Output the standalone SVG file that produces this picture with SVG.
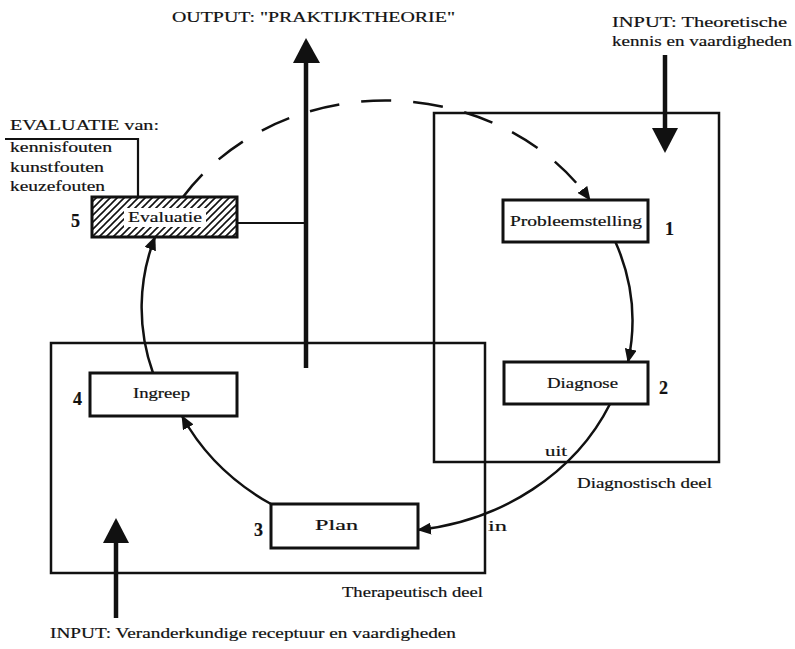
<svg xmlns="http://www.w3.org/2000/svg" width="795" height="649" viewBox="0 0 795 649">
<defs>
<style>
.t{font-family:"Liberation Serif","Times New Roman",serif;fill:#111;stroke:#111;stroke-width:0.2;}
.lbl{font-size:14px;}
.num{font-size:18px;font-weight:bold;stroke-width:0.2;}
.cap{font-size:15px;}
.region{fill:none;stroke:#111;stroke-width:2.5;}
.node{fill:#fff;stroke:#111;stroke-width:3;}
.arc{fill:none;stroke:#111;stroke-width:2.5;marker-end:url(#ah);}
.thin{fill:none;stroke:#111;stroke-width:2.2;}
.big{stroke:#111;stroke-width:4.5;fill:none;}
.head{fill:#111;}
</style>
<marker id="ah" viewBox="0 0 14 12" refX="13" refY="6" markerWidth="14" markerHeight="12" markerUnits="userSpaceOnUse" orient="auto">
<path d="M0,0 L14,6 L0,12 Z" fill="#111"/>
</marker>
<pattern id="hatch" patternUnits="userSpaceOnUse" width="7" height="7">
<path d="M-1,8 L8,-1 M-1,1 L1,-1 M6,8 L8,6" stroke="#111" stroke-width="1.6"/>
</pattern>
</defs>
<rect width="795" height="649" fill="#fff"/>

<g id="region-diagnostisch">
<rect class="region" x="434" y="113" width="285" height="349"/>
<text class="t cap" x="577" y="488" textLength="135" lengthAdjust="spacingAndGlyphs">Diagnostisch deel</text>
</g>
<g id="region-therapeutisch">
<rect class="region" x="51" y="343" width="434" height="230"/>
<text class="t cap" x="342" y="597" textLength="141" lengthAdjust="spacingAndGlyphs">Therapeutisch deel</text>
</g>

<g id="connectors">
<path class="arc" d="M183,197 A243,216 0 0 1 590,200" stroke-dasharray="30 22"/>
<path class="arc" d="M615,241 A243,216 0 0 1 628,362"/>
<path class="arc" d="M610,404 A243,216 0 0 1 418,530"/>
<path class="arc" d="M271,504 A243,216 0 0 1 182,416"/>
<path class="arc" d="M153,373 A243,216 0 0 1 155,237"/>
<path class="thin" d="M237,223 L306,223"/>
<path class="thin" d="M5,139 L138,139 L138,197"/>
<text class="t cap" x="545" y="456" textLength="22" lengthAdjust="spacingAndGlyphs">uit</text>
<text class="t cap" x="488" y="531" textLength="19" lengthAdjust="spacingAndGlyphs">in</text>
</g>

<g id="output-arrow">
<path class="big" d="M306,368 L306,60"/>
<path class="head" d="M293,63 L320,63 L306,38 Z"/>
<text class="t cap" x="172" y="22" textLength="283" lengthAdjust="spacingAndGlyphs">OUTPUT: "PRAKTIJKTHEORIE"</text>
</g>

<g id="input-theory">
<path class="big" d="M665,55 L665,130"/>
<path class="head" d="M652,128 L678,128 L665,153 Z"/>
<text class="t cap" x="612" y="27" textLength="175" lengthAdjust="spacingAndGlyphs">INPUT: Theoretische</text>
<text class="t cap" x="612" y="46" textLength="180" lengthAdjust="spacingAndGlyphs">kennis en vaardigheden</text>
</g>

<g id="input-change">
<path class="big" d="M116,618 L116,540"/>
<path class="head" d="M103,543 L129,543 L116,518 Z"/>
<text class="t cap" x="50" y="638" textLength="406" lengthAdjust="spacingAndGlyphs">INPUT: Veranderkundige receptuur en vaardigheden</text>
</g>

<g id="evaluatie-errors">
<text class="t cap" x="10" y="130" textLength="149" lengthAdjust="spacingAndGlyphs">EVALUATIE van:</text>
<text class="t cap" x="10" y="152" textLength="102" lengthAdjust="spacingAndGlyphs">kennisfouten</text>
<text class="t cap" x="10" y="172" textLength="94" lengthAdjust="spacingAndGlyphs">kunstfouten</text>
<text class="t cap" x="10" y="191" textLength="95" lengthAdjust="spacingAndGlyphs">keuzefouten</text>
</g>

<g id="node-probleemstelling">
<rect class="node" x="503" y="200" width="145" height="42"/>
<text class="t lbl" x="510" y="226" textLength="132" lengthAdjust="spacingAndGlyphs">Probleemstelling</text>
<text class="t num" x="665" y="235">1</text>
</g>
<g id="node-diagnose">
<rect class="node" x="504" y="362" width="144" height="42"/>
<text class="t lbl" x="547" y="388" textLength="71" lengthAdjust="spacingAndGlyphs">Diagnose</text>
<text class="t num" x="659" y="394">2</text>
</g>
<g id="node-plan">
<rect class="node" x="271" y="504" width="147" height="44"/>
<text class="t lbl" x="315" y="530" textLength="43" lengthAdjust="spacingAndGlyphs">Plan</text>
<text class="t num" x="254" y="536">3</text>
</g>
<g id="node-ingreep">
<rect class="node" x="90" y="373" width="147" height="43"/>
<text class="t lbl" x="133" y="398" textLength="57" lengthAdjust="spacingAndGlyphs">Ingreep</text>
<text class="t num" x="73" y="405">4</text>
</g>
<g id="node-evaluatie">
<rect x="92" y="197" width="145" height="40" fill="url(#hatch)" stroke="#111" stroke-width="3"/>
<rect x="124" y="208" width="82" height="19" fill="#fff"/>
<text class="t lbl" x="128" y="222" textLength="74" lengthAdjust="spacingAndGlyphs">Evaluatie</text>
<text class="t num" x="71" y="227">5</text>
</g>
</svg>
